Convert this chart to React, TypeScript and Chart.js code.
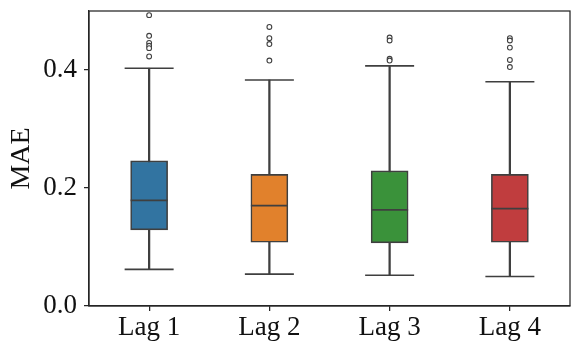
import React, { useEffect, useRef } from "react";
import { Chart, registerables } from "chart.js";

Chart.register(...registerables);

const categories = ["Lag 1", "Lag 2", "Lag 3", "Lag 4"];
const q1 = [0.129, 0.108, 0.107, 0.108];
const median = [0.179, 0.170, 0.163, 0.165];
const q3 = [0.246, 0.223, 0.229, 0.223];
const whiskerLow = [0.062, 0.054, 0.052, 0.050];
const whiskerHigh = [0.403, 0.383, 0.407, 0.380];
const outliersLag1 = [0.493, 0.458, 0.446, 0.441, 0.437, 0.423];
const outliersLag2 = [0.473, 0.454, 0.444, 0.416];
const outliersLag3 = [0.455, 0.450, 0.419, 0.416];
const outliersLag4 = [0.454, 0.450, 0.438, 0.417, 0.405];
const outliers = [outliersLag1, outliersLag2, outliersLag3, outliersLag4];
const yTicks = [0, 0.2, 0.4];
const boxColors = ["#3274A1", "#E1812C", "#3A923A", "#C03D3E"];

const LINE = "#3f3f3f";
const AXIS = "#262626";
const FONT = "'Liberation Serif', 'Times New Roman', serif";

const framePlugin = {
  id: "frame",
  afterDraw(chart: any) {
    const { ctx, chartArea } = chart;
    ctx.save();
    ctx.strokeStyle = AXIS;
    ctx.lineWidth = 1.25;
    ctx.strokeRect(chartArea.left, chartArea.top, chartArea.right - chartArea.left, chartArea.bottom - chartArea.top);
    ctx.restore();
  },
};

export default function App() {
  const ref = useRef<HTMLCanvasElement>(null);
  useEffect(() => {
    document.body.style.margin = "0";
    const canvas = ref.current!;
    const outlierPoints: { x: string; y: number }[] = [];
    outliers.forEach((arr, i) => arr.forEach((v) => outlierPoints.push({ x: categories[i], y: v })));
    const chart = new Chart(canvas, {
      type: "bar",
      data: {
        labels: categories,
        datasets: [
          {
            type: "bar",
            data: categories.map((_, i) => [whiskerLow[i], whiskerHigh[i]]),
            backgroundColor: LINE,
            barThickness: 1.6,
            grouped: false,
            order: 3,
          } as any,
          {
            type: "bar",
            data: categories.map((_, i) => [q1[i], q3[i]]),
            backgroundColor: boxColors,
            borderColor: LINE,
            borderWidth: 1.6,
            borderSkipped: false,
            barThickness: 37,
            grouped: false,
            order: 2,
          } as any,
          {
            type: "line",
            data: categories.map((c, i) => ({ x: c, y: median[i] })),
            showLine: false,
            pointStyle: "line",
            pointRadius: 18.5,
            borderColor: LINE,
            pointBorderColor: LINE,
            pointBorderWidth: 1.8,
            borderWidth: 1.8,
            order: 1,
          } as any,
          {
            type: "line",
            data: categories
              .map((c, i) => ({ x: c, y: whiskerLow[i] }))
              .concat(categories.map((c, i) => ({ x: c, y: whiskerHigh[i] }))),
            showLine: false,
            pointStyle: "line",
            pointRadius: 24.5,
            borderColor: LINE,
            pointBorderColor: LINE,
            pointBorderWidth: 1.6,
            borderWidth: 1.6,
            order: 1,
          } as any,
          {
            type: "line",
            data: outlierPoints,
            showLine: false,
            pointStyle: "circle",
            pointRadius: 2.4,
            pointBorderWidth: 1.1,
            borderColor: LINE,
            pointBorderColor: LINE,
            backgroundColor: "#ffffff",
            pointBackgroundColor: "#ffffff",
            order: 0,
          } as any,
        ],
      },
      options: {
        animation: false,
        responsive: false,
        events: [],
        layout: { autoPadding: false, padding: { top: 11, right: 11, left: 0, bottom: 0 } },
        plugins: { legend: { display: false }, tooltip: { enabled: false } },
        scales: {
          x: {
            type: "category",
            offset: true,
            grid: { offset: false, drawOnChartArea: false, drawTicks: true, tickLength: 5, color: AXIS, lineWidth: 1.25 },
            border: { display: true, color: AXIS, width: 1.25 },
            ticks: { color: "#111", font: { family: FONT, size: 27 }, padding: 1, maxRotation: 0 },
            afterFit: (s: any) => {
              s.height = 48;
              s.paddingLeft = 0;
              s.paddingRight = 0;
            },
          },
          y: {
            type: "linear",
            min: 0,
            max: 0.5,
            afterBuildTicks: (s: any) => { s.ticks = yTicks.map((v) => ({ value: v })); },
            grid: { drawOnChartArea: false, drawTicks: true, tickLength: 5, color: AXIS, lineWidth: 1.25 },
            border: { display: true, color: AXIS, width: 1.25 },
            ticks: { color: "#111", font: { family: FONT, size: 27 }, padding: 7, callback: (v: any) => Number(v).toFixed(1) },
            title: { display: true, text: "MAE", color: "#111", font: { family: FONT, size: 28 }, padding: { top: 5, bottom: 0 } },
            afterFit: (s: any) => {
              s.width = 89;
              s.paddingTop = 0;
              s.paddingBottom = 0;
            },
          },
        },
      },
      plugins: [framePlugin],
    });
    return () => chart.destroy();
  }, []);
  return (
    <div style={{ width: 581, height: 354 }}>
      <canvas ref={ref} width={581} height={354} style={{ display: "block" }} />
    </div>
  );
}
